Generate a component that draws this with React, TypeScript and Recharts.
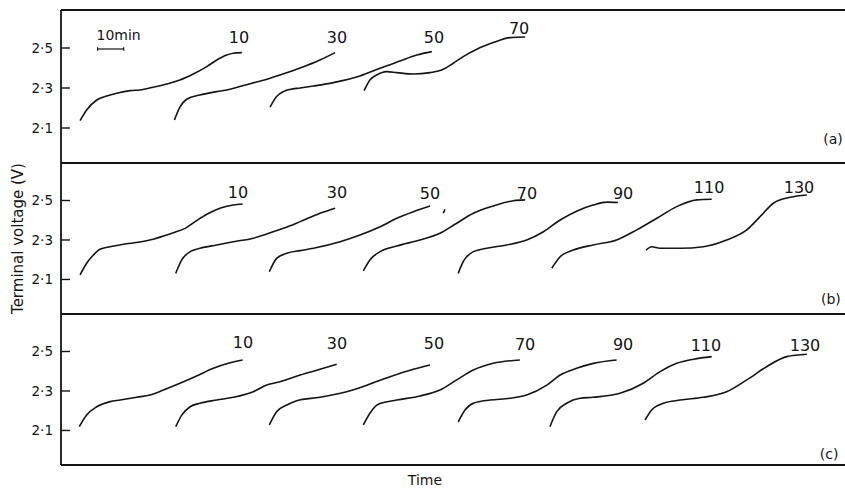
import React from 'react';
import { LineChart, Line, XAxis, YAxis, ReferenceLine, ReferenceDot } from 'recharts';

const INK = '#141414';
const FONT = '"DejaVu Sans", "Liberation Sans", sans-serif';

const T_DOMAIN: [number, number] = [0, 300];
const V_DOMAIN: [number, number] = [1.925, 2.69];
const V_TICKS = [2.1, 2.3, 2.5];

// time in minutes, terminal voltage in V
// panel (a)
const a10 = [[7.3,2.137],[9.8,2.19],[13.7,2.24],[17.5,2.26],[21.3,2.274],[26.4,2.287],[30.2,2.29],[35.3,2.304],[40.5,2.32],[45.5,2.34],[50.6,2.37],[55.8,2.407],[59.6,2.44],[63.4,2.465],[65.9,2.474],[69.2,2.477]];
const a30 = [[43.4,2.14],[45.5,2.204],[48.1,2.244],[53.2,2.265],[59.6,2.282],[64.7,2.294],[69.8,2.312],[74.9,2.33],[80,2.349],[83.8,2.365],[91.5,2.4],[99.1,2.44],[104.9,2.477]];
const a50 = [[80,2.204],[82.5,2.257],[85.1,2.282],[87.6,2.293],[91.5,2.3],[96.6,2.31],[104.2,2.327],[114.4,2.36],[122.1,2.399],[129.7,2.435],[136.1,2.465],[141.9,2.482]];
const a70 = [[116,2.287],[118.2,2.34],[120.8,2.365],[124.6,2.382],[128.5,2.377],[134.8,2.37],[141.2,2.377],[146.3,2.394],[150.1,2.424],[153.9,2.457],[159.1,2.494],[165.4,2.527],[171.8,2.552],[177.6,2.555]];

// panel (b)
const b10 = [[7.3,2.123],[9.8,2.182],[12.4,2.224],[14.9,2.253],[18.8,2.266],[23.8,2.278],[30.2,2.29],[35.3,2.304],[39.2,2.32],[43,2.337],[47.5,2.359],[51.9,2.398],[55.8,2.43],[60.8,2.461],[65.9,2.477],[69.5,2.482]];
const b30 = [[43.9,2.131],[46.2,2.199],[49.4,2.241],[53.2,2.258],[59.6,2.275],[65.9,2.291],[73.6,2.309],[78.7,2.33],[85.1,2.359],[91.5,2.393],[99.1,2.435],[104.9,2.461]];
const b50 = [[79.7,2.139],[82.5,2.207],[86.4,2.233],[91.5,2.246],[96.6,2.258],[106.8,2.291],[114.4,2.325],[122.1,2.367],[128.5,2.41],[134.8,2.443],[141.2,2.472]];
const bMark = [[146.3,2.435],[146.9,2.456]];
const b70 = [[115.7,2.144],[118.2,2.199],[122.1,2.241],[128.5,2.27],[137.4,2.3],[145,2.334],[151.4,2.385],[157.8,2.435],[165.4,2.472],[173.1,2.499],[177.6,2.503]];
const b90 = [[152,2.131],[153.9,2.19],[157.8,2.241],[162.9,2.258],[170.6,2.275],[178.2,2.3],[184.6,2.342],[191,2.401],[197.5,2.447],[203.6,2.477],[208.9,2.492],[213.1,2.49]];
const b110 = [[187.8,2.157],[191,2.215],[196,2.249],[203.7,2.275],[212.6,2.3],[220.3,2.351],[228,2.41],[235.6,2.469],[243.3,2.503],[249,2.506]];
const b130 = [[223.9,2.249],[226,2.266],[229.2,2.258],[236.9,2.258],[245.8,2.266],[254.7,2.3],[262.4,2.351],[267.5,2.418],[272.6,2.486],[279,2.516],[285.4,2.528]];

// panel (c)
const c10 = [[7,2.119],[9.8,2.178],[13.7,2.22],[18.8,2.246],[22.6,2.254],[29,2.268],[34.1,2.28],[39.2,2.305],[45.5,2.339],[51.9,2.376],[58.3,2.415],[64.7,2.443],[69.5,2.457]];
const c30 = [[43.9,2.119],[46.2,2.178],[49.4,2.22],[53.2,2.238],[59.6,2.254],[65.9,2.268],[73.6,2.296],[78.7,2.33],[83.8,2.347],[91.5,2.381],[99.1,2.41],[105.5,2.435]];
const c50 = [[79.7,2.128],[82.5,2.195],[86.4,2.229],[90.2,2.251],[99.1,2.268],[109.3,2.296],[118.2,2.335],[125.9,2.372],[134.8,2.41],[141.2,2.432]];
const c70 = [[115.7,2.128],[118.2,2.187],[121.4,2.233],[128.5,2.254],[137.4,2.275],[145,2.305],[151.4,2.356],[157.8,2.406],[165.4,2.44],[175.6,2.457]];
const c90 = [[152,2.144],[154.6,2.204],[157.8,2.238],[164.2,2.254],[171.8,2.263],[178.2,2.28],[185.9,2.33],[191,2.381],[197.3,2.415],[203.7,2.44],[212.6,2.457]];
const c110 = [[187.1,2.119],[189.7,2.195],[193.5,2.238],[198.6,2.263],[203.7,2.268],[213.9,2.288],[222.8,2.339],[229.2,2.398],[235.6,2.44],[242,2.461],[249,2.474]];
const c130 = [[223.5,2.153],[226,2.204],[230.5,2.238],[236.9,2.254],[245.8,2.268],[254.7,2.296],[262.4,2.356],[270,2.423],[277.7,2.474],[285.4,2.486]];

// curve labels (charge time, min)
const aLabels = [
  { t: 68.1, v: 2.555, text: '10' },
  { t: 105.6, v: 2.555, text: '30' },
  { t: 142.7, v: 2.553, text: '50' },
  { t: 175.3, v: 2.6, text: '70' },
];
const bLabels = [
  { t: 67.7, v: 2.543, text: '10' },
  { t: 105.6, v: 2.543, text: '30' },
  { t: 141.2, v: 2.538, text: '50' },
  { t: 178.3, v: 2.538, text: '70' },
  { t: 215.1, v: 2.538, text: '90' },
  { t: 248.0, v: 2.568, text: '110' },
  { t: 282.4, v: 2.568, text: '130' },
];
const cLabels = [
  { t: 69.6, v: 2.548, text: '10' },
  { t: 105.6, v: 2.543, text: '30' },
  { t: 142.7, v: 2.543, text: '50' },
  { t: 177.6, v: 2.538, text: '70' },
  { t: 215.1, v: 2.538, text: '90' },
  { t: 246.8, v: 2.533, text: '110' },
  { t: 284.7, v: 2.533, text: '130' },
];
const panelTags = [
  { t: 295.4, v: 2.045, text: '(a)' },
  { t: 294.6, v: 2.001, text: '(b)' },
  { t: 293.9, v: 1.981, text: '(c)' },
];
const SCALE_BAR = { t0: 14, t1: 24, v: 2.495, text: '10min', labelV: 2.565 };

const toRows = (arr: number[][]) => arr.map(([t, v]) => ({ t, v }));

const VTick = (props: any) => {
  const { x, y, payload } = props;
  return (
    <g>
      <line x1={x} x2={x + 9} y1={y} y2={y} stroke={INK} strokeWidth={1.4} />
      <text x={x - 8} y={y} dy="0.36em" textAnchor="end" fontSize={13.5} fill={INK} fontFamily={FONT}>
        {Number(payload.value).toFixed(1).replace('.', '\u00b7')}
      </text>
    </g>
  );
};

type PanelProps = {
  top: number;
  height: number;
  marginTop: number;
  marginBottom: number;
  xAxisHeight: number;
  series: number[][][];
  labels: { t: number; v: number; text: string }[];
  tag: { t: number; v: number; text: string };
  topLine?: boolean;
  scaleBar?: boolean;
  yLabel?: boolean;
  xLabel?: boolean;
};

const Panel = (p: PanelProps) => (
  <div style={{ position: 'absolute', left: 0, top: p.top }}>
    <LineChart
      width={845}
      height={p.height}
      margin={{ top: p.marginTop, right: 0, bottom: p.marginBottom, left: 1 }}
      style={{ overflow: 'visible' }}
    >
      <XAxis
        type="number"
        dataKey="t"
        domain={T_DOMAIN}
        allowDataOverflow
        tick={false}
        tickLine={false}
        height={p.xAxisHeight}
        axisLine={false}
        label={
          p.xLabel
            ? (lp: any) => {
                const vb = lp.viewBox || { x: 61, y: 465, width: 784, height: 23 };
                return (
                  <text x={vb.x + 364} y={vb.y + 20} textAnchor="middle" fontSize={14} fill={INK} fontFamily={FONT}>
                    Time
                  </text>
                );
              }
            : undefined
        }
      />
      <YAxis
        type="number"
        domain={V_DOMAIN}
        allowDataOverflow
        ticks={V_TICKS}
        interval={0}
        width={60}
        tickSize={0}
        tickMargin={0}
        tickLine={false}
        tick={<VTick />}
        axisLine={{ stroke: INK, strokeWidth: 1.8 }}
        label={
          p.yLabel
            ? (lp: any) => {
                const vb = lp.viewBox || { x: 1, y: 163, width: 60, height: 151 };
                const cx = vb.x + 17;
                const cy = vb.y + vb.height / 2;
                return (
                  <text
                    x={cx}
                    y={cy}
                    transform={`rotate(-90, ${cx}, ${cy})`}
                    textAnchor="middle"
                    dy="0.35em"
                    fontSize={15}
                    fill={INK}
                    fontFamily={FONT}
                  >
                    Terminal voltage (V)
                  </text>
                );
              }
            : undefined
        }
      />
      {p.topLine && (
        <ReferenceLine
          segment={[{ x: T_DOMAIN[0], y: V_DOMAIN[1] }, { x: T_DOMAIN[1], y: V_DOMAIN[1] }]}
          stroke={INK}
          strokeWidth={1.8}
          ifOverflow="visible"
        />
      )}
      <ReferenceLine
        segment={[{ x: T_DOMAIN[0], y: V_DOMAIN[0] }, { x: T_DOMAIN[1], y: V_DOMAIN[0] }]}
        stroke={INK}
        strokeWidth={1.8}
        ifOverflow="visible"
      />
      {p.scaleBar && (
        <ReferenceLine
          segment={[{ x: SCALE_BAR.t0, y: SCALE_BAR.v }, { x: SCALE_BAR.t1, y: SCALE_BAR.v }]}
          stroke={INK}
          strokeWidth={1.2}
        />
      )}
      {p.scaleBar && (
        <ReferenceLine
          segment={[{ x: SCALE_BAR.t0, y: SCALE_BAR.v - 0.009 }, { x: SCALE_BAR.t0, y: SCALE_BAR.v + 0.009 }]}
          stroke={INK}
          strokeWidth={1.2}
        />
      )}
      {p.scaleBar && (
        <ReferenceLine
          segment={[{ x: SCALE_BAR.t1, y: SCALE_BAR.v - 0.009 }, { x: SCALE_BAR.t1, y: SCALE_BAR.v + 0.009 }]}
          stroke={INK}
          strokeWidth={1.2}
        />
      )}
      {p.scaleBar && (
        <ReferenceDot
          x={SCALE_BAR.t0 - 0.4}
          y={SCALE_BAR.labelV}
          r={0}
          fill="none"
          stroke="none"
          ifOverflow="visible"
          label={{ value: SCALE_BAR.text, position: 'right', offset: 0, fontSize: 14, fill: INK, fontFamily: FONT }}
        />
      )}
      {p.series.map((s, i) => (
        <Line
          key={`s${i}`}
          data={toRows(s)}
          dataKey="v"
          type="monotone"
          stroke={INK}
          strokeWidth={1.6}
          dot={false}
          activeDot={false}
          isAnimationActive={false}
        />
      ))}
      {p.labels.map((l, i) => (
        <ReferenceDot
          key={`l${i}`}
          x={l.t}
          y={l.v}
          r={0}
          fill="none"
          stroke="none"
          ifOverflow="visible"
          label={{ value: l.text, position: 'center', fontSize: 16, fill: INK, fontFamily: FONT }}
        />
      ))}
      <ReferenceDot
        x={p.tag.t}
        y={p.tag.v}
        r={0}
        fill="none"
        stroke="none"
        ifOverflow="visible"
        label={{ value: p.tag.text, position: 'center', fontSize: 14, fill: INK, fontFamily: FONT }}
      />
    </LineChart>
  </div>
);

export default function App() {
  return (
    <div
      style={{
        position: 'absolute',
        left: 0,
        top: 0,
        width: 845,
        height: 488,
        background: '#fff',
        fontFamily: FONT,
        overflow: 'hidden',
      }}
    >
      <Panel
        top={0}
        height={167}
        marginTop={10}
        marginBottom={4}
        xAxisHeight={0}
        series={[a10, a30, a50, a70]}
        labels={aLabels}
        tag={panelTags[0]}
        topLine
        scaleBar
      />
      <Panel
        top={160}
        height={158}
        marginTop={3}
        marginBottom={4}
        xAxisHeight={0}
        series={[b10, b30, b50, bMark, b70, b90, b110, b130]}
        labels={bLabels}
        tag={panelTags[1]}
        yLabel
      />
      <Panel
        top={311}
        height={177}
        marginTop={3}
        marginBottom={0}
        xAxisHeight={23}
        series={[c10, c30, c50, c70, c90, c110, c130]}
        labels={cLabels}
        tag={panelTags[2]}
        xLabel
      />
    </div>
  );
}
